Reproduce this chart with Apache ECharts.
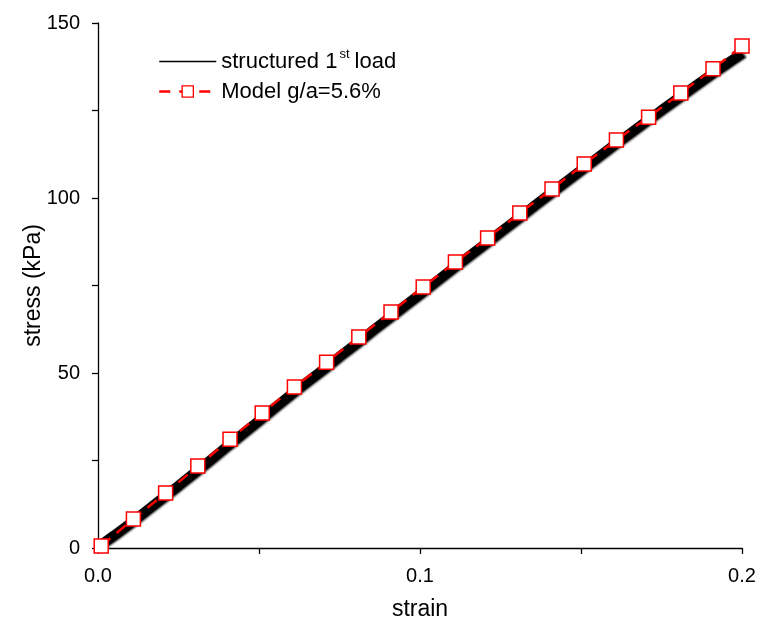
<!DOCTYPE html>
<html><head><meta charset="utf-8">
<script src="https://cdn.jsdelivr.net/npm/echarts@6/dist/echarts.min.js"></script>
<style>html,body{margin:0;padding:0;background:#fff}#c{width:760px;height:622px}</style>
</head><body><div id="c"></div>
<script>
// Measured data (structured 1st load), strain vs stress (kPa)
const loadStrain = [0,0.005,0.01,0.015,0.02,0.025,0.03,0.035,0.04,0.045,0.05,0.055,0.06,0.065,0.07,0.075,0.08,0.085,0.09,0.095,0.1,0.105,0.11,0.115,0.12,0.125,0.13,0.135,0.14,0.145,0.15,0.155,0.16,0.165,0.17,0.175,0.18,0.185,0.19,0.195,0.2];
const loadStress = [0.3,3.6,7.0,10.6,14.2,17.8,21.5,25.2,29.0,32.7,36.4,40.2,43.9,47.5,51.0,54.7,58.2,61.9,65.4,69.0,72.5,76.1,79.7,83.2,86.7,90.3,93.8,97.4,100.9,104.4,107.9,111.4,114.9,118.3,121.7,125.1,128.4,131.7,135.0,138.2,141.3];
// Model g/a = 5.6%
const modelStrain = [0.001,0.011,0.021,0.031,0.041,0.051,0.061,0.071,0.081,0.091,0.101,0.111,0.121,0.131,0.141,0.151,0.161,0.171,0.181,0.191,0.2];
const modelStress = [0.6,8.3,15.7,23.4,31.1,38.6,46.0,53.1,60.3,67.4,74.6,81.7,88.6,95.7,102.6,109.7,116.6,123.1,130.0,136.9,143.4];
const xTickLabels = {"0.0":"0.0","0.1":"0.1","0.2":"0.2"};
const yTickLabels = [0,50,100,150];

const F = "'Liberation Sans', Arial, Helvetica, sans-serif";
const chart = echarts.init(document.getElementById('c'), null, {renderer:'canvas'});
const zip = (a,b)=>a.map((v,i)=>[v,b[i]]);
chart.setOption({
  animation:false,
  backgroundColor:'#fff',
  grid:{left:98,right:18,top:23,bottom:74,containLabel:false,outerBoundsMode:'none'},
  legend:{
    orient:'vertical', left:153, top:43, itemWidth:57, itemHeight:14, itemGap:8,
    textStyle:{fontFamily:F,fontSize:22,color:'#000',
      rich:{n:{fontFamily:F,fontSize:22,color:'#000'},sup:{fontFamily:F,fontSize:13,color:'#000',verticalAlign:'top',padding:[0,5,14,2]}}},
    formatter:function(name){
      if(name.indexOf('structured')===0){return '{n|structured 1}{sup|st}{n|load}';}
      return '{n|'+name+'}';
    },
    data:[{name:'structured 1st load',itemStyle:{color:'rgba(0,0,0,0)',borderWidth:0},lineStyle:{width:1.3,color:'#000',shadowBlur:0,shadowOffsetX:0}},
          {name:'Model g/a=5.6%',itemStyle:{borderWidth:1.3},lineStyle:{width:2.5,type:[11,9]}}]
  },
  xAxis:{
    type:'value',min:0,max:0.2,interval:0.05,
    name:'strain',nameLocation:'middle',nameGap:50,nameMoveOverlap:false,
    nameTextStyle:{fontFamily:F,fontSize:23,color:'#000'},
    axisLine:{show:true,onZero:false,lineStyle:{color:'#000',width:1.3}},
    axisTick:{show:true,inside:false,length:6,lineStyle:{color:'#000',width:1.3}},
    axisLabel:{fontFamily:F,fontSize:20,color:'#000',margin:18,
      formatter:function(v){const k=v.toFixed(1);return (Math.abs(v*10-Math.round(v*10))<1e-6 && xTickLabels[k])?xTickLabels[k]:'';}},
    splitLine:{show:false}
  },
  yAxis:{
    type:'value',min:0,max:150,interval:25,
    name:'stress (kPa)',nameLocation:'middle',nameGap:53,nameRotate:90,nameMoveOverlap:false,
    nameTextStyle:{fontFamily:F,fontSize:23,color:'#000'},
    axisLine:{show:true,onZero:false,lineStyle:{color:'#000',width:1.3}},
    axisTick:{show:true,inside:false,length:6,lineStyle:{color:'#000',width:1.3}},
    axisLabel:{fontFamily:F,fontSize:20,color:'#000',margin:18,
      formatter:function(v){return yTickLabels.indexOf(v)>=0?String(v):'';}},
    splitLine:{show:false}
  },
  series:[
    {name:'structured 1st load',type:'line',data:zip(loadStrain,loadStress),
     showSymbol:false,symbol:'none',clip:true,
     lineStyle:{color:'#000',width:10,shadowColor:'rgba(0,0,0,0.8)',shadowBlur:2,shadowOffsetX:2},
     itemStyle:{color:'#000'},z:2},
    {name:'Model g/a=5.6%',type:'line',data:zip(modelStrain,modelStress),
     symbol:'rect',symbolSize:14,showSymbol:true,clip:false,
     lineStyle:{color:'#ff0000',width:2.5,type:[12,8]},
     itemStyle:{color:'#fff',borderColor:'#ff0000',borderWidth:1.5},z:3}
  ]
});
</script></body></html>
